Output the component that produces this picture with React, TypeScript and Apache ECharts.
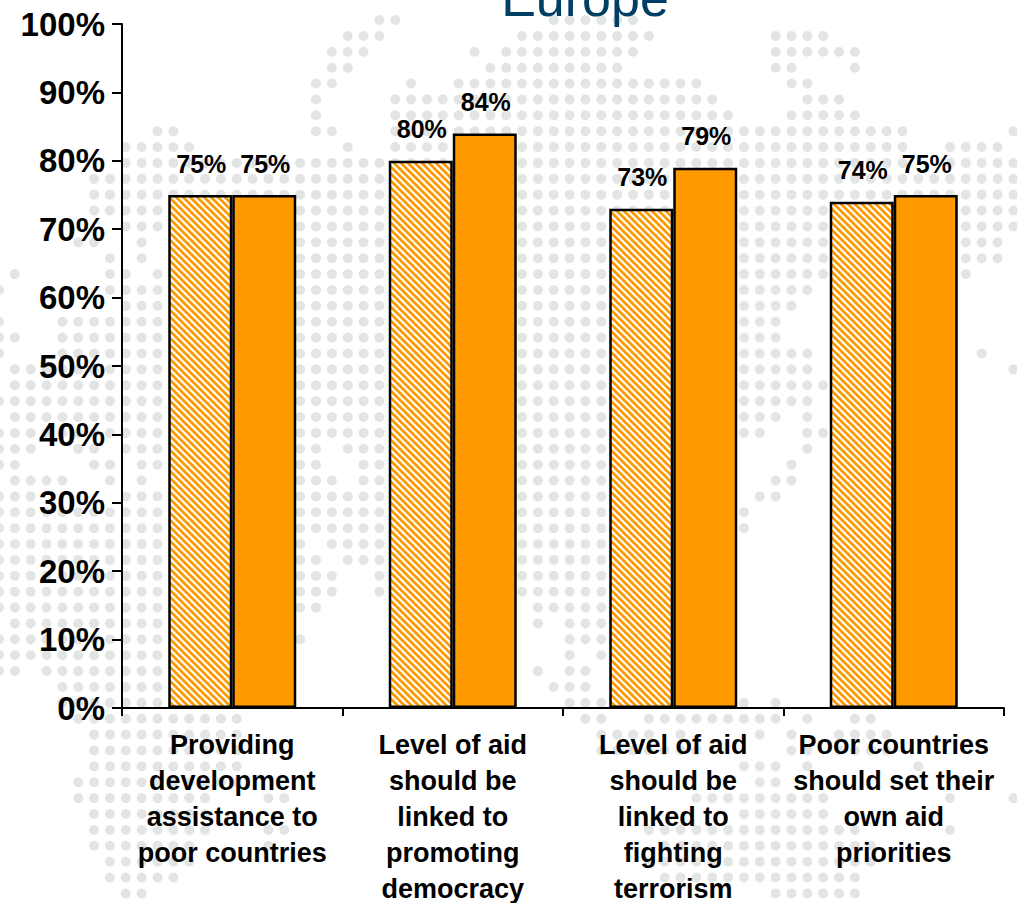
import React, { useEffect, useRef } from "react";
import * as echarts from "echarts";

const categories = [
  "Providing\ndevelopment\nassistance to\npoor countries",
  "Level of aid\nshould be\nlinked to\npromoting\ndemocracy",
  "Level of aid\nshould be\nlinked to\nfighting\nterrorism",
  "Poor countries\nshould set their\nown aid\npriorities",
];
const hatchedValues = [75, 80, 73, 74];
const solidValues = [75, 84, 79, 75];
const yTicks = { min: 0, max: 100, interval: 10 };

// Decorative dotted world map: [first column, last column, ...] per row of the dot lattice.
const mapRuns: number[][] = [
  [24, 25, 35, 40],
  [22, 24, 33, 41, 49, 52],
  [21, 23, 30, 30, 32, 40, 49, 54],
  [21, 22, 31, 39, 49, 50, 54, 54],
  [20, 21, 26, 26, 29, 44, 50, 51],
  [20, 20, 25, 45, 51, 53],
  [20, 20, 25, 46, 50, 54],
  [10, 11, 20, 21, 25, 57, 64, 64],
  [8, 12, 22, 22, 25, 57, 60, 63],
  [8, 57, 60, 64],
  [6, 64],
  [6, 64],
  [6, 64],
  [8, 64],
  [5, 6, 9, 9, 19, 63],
  [7, 7, 9, 9, 19, 63],
  [1, 1, 7, 8, 10, 10, 19, 61],
  [0, 0, 7, 10, 19, 51],
  [8, 10, 19, 50],
  [0, 0, 4, 10, 19, 49],
  [0, 1, 4, 10, 19, 49],
  [0, 0, 4, 10, 19, 51, 62, 62],
  [1, 10, 19, 51, 64, 64],
  [1, 10, 19, 52],
  [0, 10, 19, 51],
  [1, 10, 19, 49, 51, 51],
  [0, 10, 19, 48, 51, 52],
  [0, 2, 5, 6, 8, 10, 19, 20, 22, 38, 51, 51],
  [0, 1, 6, 7, 9, 10, 19, 20, 23, 38, 50, 50],
  [1, 4, 7, 7, 9, 9, 19, 21, 23, 38, 49, 50],
  [0, 2, 8, 10, 19, 38, 48, 49],
  [0, 10, 19, 38, 47, 47],
  [0, 10, 19, 38, 47, 47],
  [0, 10, 19, 19, 21, 38],
  [0, 10, 19, 20, 22, 38],
  [0, 10, 19, 21, 24, 38],
  [0, 10, 19, 21, 24, 38],
  [0, 10, 19, 20, 34, 38],
  [1, 10, 34, 34, 36, 38],
  [0, 10, 19, 19, 36, 38],
  [0, 10, 36, 36, 38, 38],
  [0, 1, 3, 10, 34, 34, 36, 37],
  [4, 10, 35, 37],
  [4, 10, 36, 38, 47, 47, 49, 49],
  [5, 15, 37, 38, 41, 49, 51, 51, 54, 55],
  [6, 15, 38, 41, 43, 43, 48, 48, 50, 50, 53, 56],
  [6, 15, 38, 44, 50, 51, 53, 56],
  [6, 15, 47, 49, 51, 51, 58, 58],
  [5, 15, 48, 49],
  [5, 13, 17, 18, 44, 52, 60, 60, 64, 64],
  [6, 13, 47, 52],
  [6, 13, 17, 18, 41, 54, 60, 60],
  [6, 12, 17, 17, 42, 55],
  [7, 12, 41, 55],
  [7, 11, 42, 54],
  [8, 9, 49, 54],
];

function makeHatch(): HTMLCanvasElement {
  const size = 7;
  const c = document.createElement("canvas");
  c.width = size;
  c.height = size;
  const g = c.getContext("2d")!;
  g.fillStyle = "#ffffff";
  g.fillRect(0, 0, size, size);
  g.strokeStyle = "#ff9900";
  g.lineWidth = 2.7;
  for (const o of [-size, 0, size]) {
    g.beginPath();
    g.moveTo(o - 1, -1);
    g.lineTo(o + size + 1, size + 1);
    g.stroke();
  }
  return c;
}

function mapDots() {
  const out: any[] = [];
  mapRuns.forEach((runs, r) => {
    for (let i = 0; i < runs.length; i += 2) {
      for (let col = runs[i]; col <= runs[i + 1]; col++) {
        out.push({
          type: "circle",
          silent: true,
          z: -1,
          shape: { cx: -1 + 15.85 * col, cy: 20 + 15.88 * r, r: 5 },
          style: { fill: "#e3e5e5" },
        });
      }
    }
  });
  out.push({
    type: "text",
    silent: true,
    z: 5,
    x: 585,
    y: 24,
    style: {
      text: "Europe",
      fill: "#003f63",
      font: "normal 52px 'Liberation Sans', Arial, sans-serif",
      textAlign: "center",
      textVerticalAlign: "bottom",
      textBaseline: "alphabetic",
    },
  });
  return out;
}

export default function App() {
  const ref = useRef<HTMLDivElement>(null);
  useEffect(() => {
    const chart = echarts.init(ref.current!, null, { renderer: "svg" });
    const font = "'Liberation Sans', Arial, sans-serif";
    const barLabel = {
      show: true,
      position: "top" as const,
      distance: 19,
      offset: [1, 0],
      formatter: "{c}%",
      color: "#000",
      fontFamily: font,
      fontWeight: "bold" as const,
      fontSize: 25,
    };
    chart.setOption({
      animation: false,
      backgroundColor: "#ffffff",
      graphic: mapDots(),
      grid: { left: 122, top: 24, width: 882, height: 684, containLabel: false, outerBoundsMode: "none" },
      xAxis: {
        type: "category",
        data: categories,
        axisLine: { lineStyle: { color: "#000", width: 2 } },
        axisTick: { show: true, length: 8, lineStyle: { color: "#000", width: 2 } },
        axisLabel: {
          interval: 0,
          margin: 19,
          color: "#000",
          fontFamily: font,
          fontWeight: "bold",
          fontSize: 27,
          lineHeight: 36,
        },
      },
      yAxis: {
        type: "value",
        min: yTicks.min,
        max: yTicks.max,
        interval: yTicks.interval,
        splitLine: { show: false },
        axisLine: { show: true, lineStyle: { color: "#000", width: 2 } },
        axisTick: { show: true, length: 10, lineStyle: { color: "#000", width: 2 } },
        axisLabel: {
          formatter: "{value}%",
          margin: 17,
          color: "#000",
          fontFamily: font,
          fontWeight: "bold",
          fontSize: 33,
        },
      },
      series: [
        {
          name: "Hatched",
          type: "bar",
          data: hatchedValues,
          barWidth: 64,
          barGap: 0,
          itemStyle: {
            color: { image: makeHatch(), repeat: "repeat", imageWidth: 7, imageHeight: 7 },
            borderColor: "#000",
            borderWidth: 2.5,
          },
          label: barLabel,
        },
        {
          name: "Solid",
          type: "bar",
          data: solidValues,
          barWidth: 64,
          barGap: 0,
          itemStyle: { color: "#ff9900", borderColor: "#000", borderWidth: 2.5 },
          label: barLabel,
        },
      ],
    });
    return () => chart.dispose();
  }, []);
  return (
    <div
      ref={ref}
      style={{ position: "fixed", left: 0, top: 0, width: 1017, height: 903, background: "#fff" }}
    />
  );
}
